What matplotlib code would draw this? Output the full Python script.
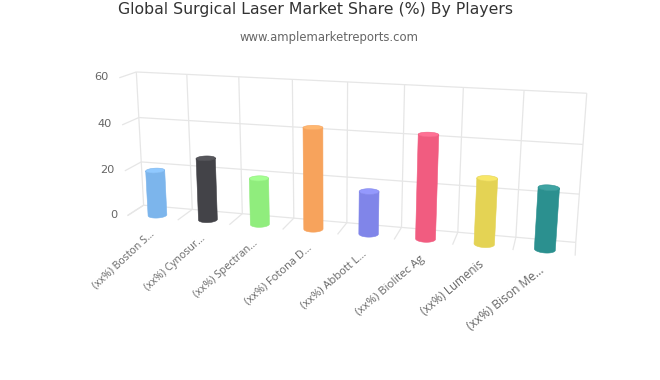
import numpy as np
import matplotlib
matplotlib.use("Agg")
import matplotlib.pyplot as plt
from mpl_toolkits.mplot3d import proj3d
from mpl_toolkits.mplot3d.art3d import Line3DCollection, Poly3DCollection

categories = ["(xx%) Boston S…", "(xx%) Cynosur…", "(xx%) Spectran…", "(xx%) Fotona D…",
              "(xx%) Abbott L…", "(xx%) Biolitec Ag", "(xx%) Lumenis", "(xx%) Bison Me…"]
values = [20, 27, 20, 43, 18, 43, 27, 25]
y_ticks = [0, 20, 40, 60]
colors = ["#7cb5ec", "#434348", "#90ed7d", "#f7a35c", "#8085e9", "#f15c80", "#e4d354", "#2b908f"]
top_colors = ["#90c9ff", "#57575c", "#a4ff91", "#ffb770", "#9499fd", "#ff7094", "#f8e768", "#3fa4a3"]
# the labels get skewed and larger towards the near side
label_angles = [43, 42, 41.5, 41.5, 41, 40.5, 40, 38.5]
label_sizes = [7.6, 7.6, 7.7, 7.9, 8.0, 8.2, 8.4, 8.7]

# camera calibration: (band edge, depth, value) -> pixel on the 660x380 image
calib = [
    (0, 1, 60, 136.7, 71.7), (0, 1, 40, 139, 117.7), (0, 1, 20, 141.3, 162.3), (0, 1, 0, 143.7, 205),
    (8, 1, 60, 586.7, 93), (8, 1, 40, 582.7, 145), (8, 1, 20, 579.3, 195), (8, 1, 0, 576, 243),
    (1, 1, 0, 192, 208), (2, 1, 0, 242, 214), (3, 1, 0, 293, 218), (5, 1, 0, 402, 226.7),
    (6, 1, 0, 458, 232.7), (7, 1, 0, 516, 237),
    (0, 0, 60, 119, 77), (0, 0, 40, 122, 125), (0, 0, 20, 125, 172), (0, 0, 0, 127.7, 215.7),
    (1, 0, 0, 178, 220.7), (2, 0, 0, 229, 225), (3, 0, 0, 283, 230), (4, 0, 0, 337, 234),
    (5, 0, 0, 394, 239), (6, 0, 0, 453, 244), (7, 0, 0, 513, 250), (8, 0, 0, 575, 255),
]

rows = []
rhs = []
for u, d, z, px, py in calib:
    rows.append([u, d, z, 1, 0, 0, 0, 0, -px * u, -px * d, -px * z])
    rhs.append(px)
    rows.append([0, 0, 0, 0, u, d, z, 1, -py * u, -py * d, -py * z])
    rhs.append(py)
p = np.linalg.lstsq(np.array(rows), np.array(rhs), rcond=None)[0]
P = np.append(p, 1).reshape(3, 4)

fig = plt.figure(figsize=(6.6, 3.8), dpi=100)
ax = fig.add_axes([0, 0, 1, 1], projection="3d")
ax.apply_aspect = lambda position=None: None
ax.set_position([0, 0, 1, 1])
ax.set_axis_off()
ax.computed_zorder = False

# pixel (y down) -> axes 2d data
A = ax.transData.inverted().get_matrix() @ np.array([[1, 0, 0], [0, -1, 380], [0, 0, 1]])
M = np.vstack([A[0, 0] * P[0] + A[0, 1] * P[1] + A[0, 2] * P[2],
               A[1, 0] * P[0] + A[1, 1] * P[1] + A[1, 2] * P[2],
               [0, 1, 0, 0],
               P[2]])
ax.get_proj = lambda: M


def label(x, y, z, s, **kw):
    tx, ty, _ = proj3d.proj_transform(x, y, z, M)
    ax.text2D(tx, ty, s, transform=ax.transData, color="#666666", zorder=30, **kw)


n = len(categories)
segs = []
for t in y_ticks:
    segs.append([(0, 1, t), (n, 1, t)])
    segs.append([(0, 0, t), (0, 1, t)])
    label(-0.2, 0, t, str(t), fontsize=8.2, ha="right", va="center")
for k in range(n + 1):
    segs.append([(k, 1, 0), (k, 1, y_ticks[-1])])
    segs.append([(k, 0, 0), (k, 1, 0)])
ax.add_collection3d(Line3DCollection(segs, colors="#e6e6e6", linewidths=0.9, zorder=1))

theta = np.linspace(0, 2 * np.pi, 97)[:-1]
rx = 0.17
rd = 0.26
cd = 0.29
for i, v in enumerate(values):
    cx = i + 0.5
    xs = cx + rx * np.cos(theta)
    ds = cd + rd * np.sin(theta)
    # wall runs between the points where the base looks widest, along the front
    sx = proj3d.proj_transform(xs, ds, np.zeros_like(xs), M)[0]
    a0 = int(np.argmin(sx))
    a1 = int(np.argmax(sx))
    if a1 < a0:
        a1 += len(theta)
    arc = [a % len(theta) for a in range(a0, a1 + 1)]
    wall = [(xs[a], ds[a], 0) for a in arc] + [(xs[a], ds[a], v) for a in arc[::-1]]
    ax.add_collection3d(Poly3DCollection([wall], facecolors=colors[i], edgecolors=colors[i],
                                         linewidths=0.4, zorder=10 + 2 * i))
    ax.add_collection3d(Poly3DCollection([list(zip(xs, ds, np.full_like(xs, v)))],
                                         facecolors=top_colors[i], edgecolors=colors[i],
                                         linewidths=0.4, zorder=11 + 2 * i))
    label(cx, 0, -6.5, categories[i], fontsize=label_sizes[i], family="Open Sans",
          rotation=label_angles[i], rotation_mode="anchor", ha="right", va="center")

fig.text(315 / 660, 1 - 14 / 380, "Global Surgical Laser Market Share (%) By Players",
         color="#333333", fontsize=11.3, ha="center", va="baseline")
fig.text(329 / 660, 1 - 41 / 380, "www.amplemarketreports.com",
         color="#666666", fontsize=8.4, ha="center", va="baseline")

fig.savefig("out.png", dpi=100)
